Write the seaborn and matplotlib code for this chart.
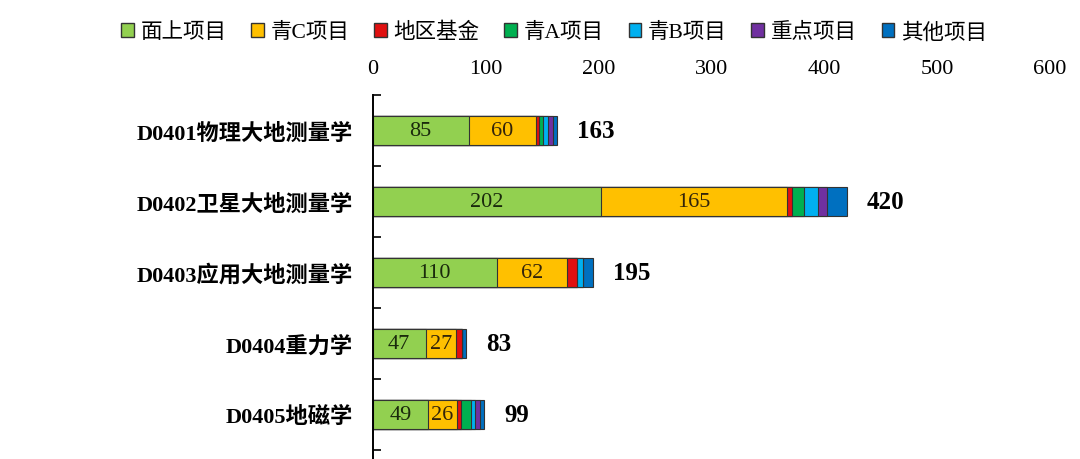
import numpy as np
import pandas as pd
import seaborn as sns
import matplotlib
matplotlib.use('Agg')
import matplotlib.pyplot as plt
from matplotlib.patches import Patch

# 数据
categories = ['D0401物理大地测量学', 'D0402卫星大地测量学', 'D0403应用大地测量学', 'D0404重力学', 'D0405地磁学']
series = ['面上项目', '青C项目', '地区基金', '青A项目', '青B项目', '重点项目', '其他项目']
mianshang = [85, 202, 110, 47, 49]
qing_c = [60, 165, 62, 27, 26]
diqu = [2, 5, 9, 5, 3]
qing_a = [4, 10, 0, 0, 9]
qing_b = [4, 13, 5, 0, 4]
zhongdian = [5, 8, 0, 0, 4]
qita = [3, 17, 9, 4, 4]
totals = [163, 420, 195, 83, 99]
xticks = [0, 100, 200, 300, 400, 500, 600]

colors = ['#92D050', '#FFC000', '#E01010', '#00B050', '#00B0F0', '#7030A0', '#0070C0']

sns.set_style('white')
plt.rcParams['font.family'] = ['Liberation Serif', 'Noto Sans CJK SC']

df = pd.DataFrame({'cat': categories, '面上项目': mianshang, '青C项目': qing_c, '地区基金': diqu,
                   '青A项目': qing_a, '青B项目': qing_b, '重点项目': zhongdian, '其他项目': qita})
cum = df[series].cumsum(axis=1)

fig = plt.figure(figsize=(10.8, 4.6), dpi=100)
ax = fig.add_axes([0.345, 0.0, 0.627, 0.791])

# 堆叠: 从最后一项往前画累计值
for i in range(len(series) - 1, -1, -1):
    sns.barplot(x=cum[series[i]], y=df['cat'], color=colors[i], orient='h', width=0.41,
                edgecolor='#333333', linewidth=0.8, ax=ax, saturation=1)

# 数值标签
for j in range(len(categories)):
    ax.text(mianshang[j] / 2, j, str(mianshang[j]), ha='center', va='center', fontsize=16, color='#1a2a0c')
    ax.text(mianshang[j] + qing_c[j] / 2, j, str(qing_c[j]), ha='center', va='center', fontsize=16, color='#33240a')
    ax.text(totals[j] + 18, j, str(totals[j]), ha='left', va='center', fontsize=18, fontweight='bold', color='black')

ax.set_xlim(0, 600)
ax.set_ylim(4.63, -0.5)
ax.set_xticks(xticks)
ax.xaxis.tick_top()
ax.tick_params(axis='x', length=0, labelsize=16, pad=12, labelcolor='black')
ax.set_yticks(np.arange(-0.5, 5, 1), minor=False)
ax.set_yticks(np.arange(0, 5), minor=True)
ax.set_yticklabels([''] * 6)
ax.set_yticklabels(categories, minor=True, fontsize=16, fontweight='bold', color='black')
ax.tick_params(axis='y', which='major', direction='in', length=6, width=1.2, color='black', left=True)
ax.tick_params(axis='y', which='minor', length=0, pad=14)
ax.set_xlabel('')
ax.set_ylabel('')
for s in ['top', 'right', 'bottom']:
    ax.spines[s].set_visible(False)
ax.spines['left'].set_color('black')
ax.spines['left'].set_linewidth(1.4)

handles = [Patch(facecolor=colors[i], edgecolor='#333333', label=series[i]) for i in range(len(series))]
fig.legend(handles=handles, loc='center', bbox_to_anchor=(0.513, 0.928), ncol=7, frameon=False,
           fontsize=15.5, handlelength=0.6, handleheight=0.6, handletextpad=0.3, columnspacing=1.15,
           labelcolor='black')

fig.savefig('out.png', dpi=100)
